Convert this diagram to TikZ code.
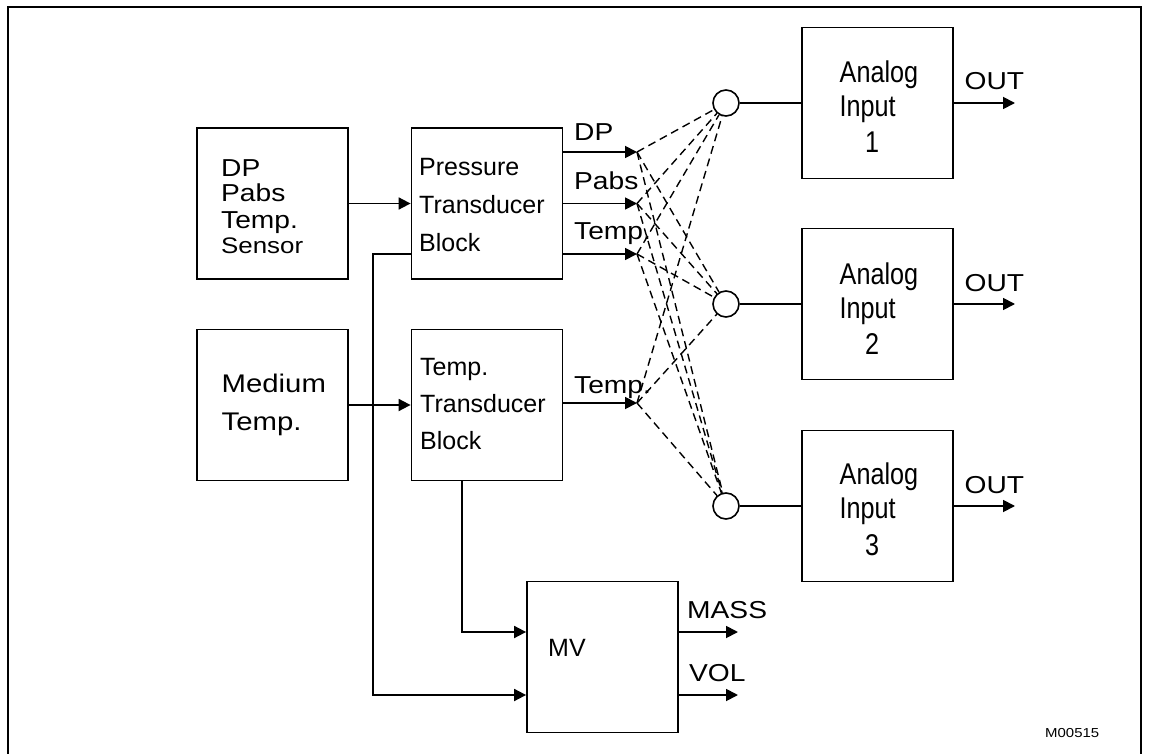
\documentclass[tikz,border=0pt]{standalone}
\usepackage{fontspec}
\setmainfont{Liberation Sans}
\newfontfamily\wfont[FakeStretch=1.15]{Liberation Sans}
\newfontfamily\nfont[FakeStretch=0.84]{Liberation Sans}
\usetikzlibrary{arrows.meta}
\tikzset{
  blk/.style={draw, line width=1.8pt, minimum width=151pt, minimum height=151pt, inner sep=0pt},
  txt/.style={inner sep=0pt, anchor=base west},
  ftA/.style={font=\fontsize{25}{25}\selectfont},
  ftW/.style={font=\wfont\fontsize{24.5}{24.5}\selectfont},
  ftN/.style={font=\nfont\fontsize{30}{30}\selectfont},
  arr/.style={line width=1.8pt, -{Triangle[length=12pt,width=12pt]}},
  wire/.style={line width=1.8pt},
  dline/.style={line width=1.4pt, dash pattern=on 8pt off 5pt},
  sumc/.style={draw, circle, line width=1.6pt, minimum size=26pt, inner sep=0pt},
}
\begin{document}
\begin{tikzpicture}[x=1pt,y=-1pt]
\useasboundingbox (0,0) rectangle (1149,754);
% frame
\draw[line width=2.2pt] (8,770) -- (8,7) -- (1141,7) -- (1141,770);

% blocks
\node[blk] (sen) at (272.5,203.5) {};
\node[blk] (ptb) at (487,203.5) {};
\node[blk] (med) at (272.5,405) {};
\node[blk] (ttb) at (487,405) {};
\node[blk] (mv)  at (602.5,657) {};
\node[blk] (ai1) at (877.5,103) {};
\node[blk] (ai2) at (877.5,304) {};
\node[blk] (ai3) at (877.5,506) {};

% summing circles
\node[sumc] (c1) at (726,103) {};
\node[sumc] (c2) at (726,304) {};
\node[sumc] (c3) at (726,506) {};

% texts in blocks
\node[txt,ftW] (s1) at (221,176.7) {DP};
\node[txt,ftW] (s2) at (221,202) {Pabs};
\node[txt,ftW] (s3) at (221,229) {Temp.};
\node[txt,font=\wfont\fontsize{22.5}{22.5}\selectfont] (s4) at (221,254) {Sensor};

\node[txt,ftA] (p1) at (419,175.7) {Pressure};
\node[txt,ftA] (p2) at (419,214) {Transducer};
\node[txt,ftA] (p3) at (419,251.7) {Block};

\node[txt,font=\wfont\fontsize{25.5}{25.5}\selectfont] (m1) at (221.5,392.7) {Medium};
\node[txt,font=\wfont\fontsize{25.5}{25.5}\selectfont] (m2) at (221.5,430) {Temp.};

\node[txt,ftA] (q1) at (420,375) {Temp.};
\node[txt,ftA] (q2) at (420,412.3) {Transducer};
\node[txt,ftA] (q3) at (420,449.3) {Block};

\node[txt,ftA] (mvt) at (548,656) {MV};

\node[txt,ftN] (a1a) at (839.5,82.5) {Analog};
\node[txt,ftN] (a1b) at (839.5,116.5) {Input};
\node[inner sep=0pt,anchor=base,ftN] (a1c) at (872,153) {1};
\node[txt,ftN] (a2a) at (839.5,284) {Analog};
\node[txt,ftN] (a2b) at (839.5,318) {Input};
\node[inner sep=0pt,anchor=base,ftN] (a2c) at (872,354.5) {2};
\node[txt,ftN] (a3a) at (839.5,484) {Analog};
\node[txt,ftN] (a3b) at (839.5,518.5) {Input};
\node[inner sep=0pt,anchor=base,ftN] (a3c) at (872,555) {3};

% signal labels
\node[txt,ftW] (l1) at (574,141) {DP};
\node[txt,ftW] (l2) at (574,190) {Pabs};
\node[txt,ftW] (l3) at (574,240) {Temp.};
\node[txt,ftW] (l4) at (574,393) {Temp.};
\node[txt,ftW] (o1) at (964.5,90) {OUT};
\node[txt,ftW] (o2) at (964.5,291) {OUT};
\node[txt,ftW] (o3) at (964.5,493) {OUT};
\node[txt,ftW] (lm) at (687,618.3) {MASS};
\node[txt,ftW] (lv) at (689,681.7) {VOL};
\node[txt,font=\wfont\fontsize{13}{13}\selectfont] (code) at (1045,737) {M00515};

% coordinates
\coordinate (t1) at (637,152);
\coordinate (t2) at (637,203.5);
\coordinate (t3) at (637,254);
\coordinate (t4) at (637,403);
\coordinate (j1) at (373,254);
\coordinate (j2) at (373,695);
\coordinate (k1) at (462,632);
\coordinate (ou1) at (1015,103);
\coordinate (ou2) at (1015,304);
\coordinate (ou3) at (1015,506);
\coordinate (mo1) at (738,632);
\coordinate (mo2) at (738,695);

% solid connectors
\draw[arr] (sen) -- (ptb);
\draw[arr] (med) -- (ttb);
\draw[arr] (ptb.east |- t1) -- (t1);
\draw[arr] (ptb.east |- t2) -- (t2);
\draw[arr] (ptb.east |- t3) -- (t3);
\draw[arr] (ttb.east |- t4) -- (t4);
\draw[arr] (ptb.west |- j1) -- (j1) -- (j2) -- (mv.west |- j2);
\draw[arr] (ttb.south -| k1) -- (k1) -- (mv.west |- k1);
\draw[arr] (mv.east |- mo1) -- (mo1);
\draw[arr] (mv.east |- mo2) -- (mo2);
\draw[wire] (c1) -- (ai1);
\draw[wire] (c2) -- (ai2);
\draw[wire] (c3) -- (ai3);
\draw[arr] (ai1.east |- ou1) -- (ou1);
\draw[arr] (ai2.east |- ou2) -- (ou2);
\draw[arr] (ai3.east |- ou3) -- (ou3);

% dashed selection lines
\foreach \t in {t1,t2,t3,t4}{
  \foreach \c in {c1,c2,c3}{
    \draw[dline] (\t) -- (\c);
  }
}
\end{tikzpicture}
\end{document}
